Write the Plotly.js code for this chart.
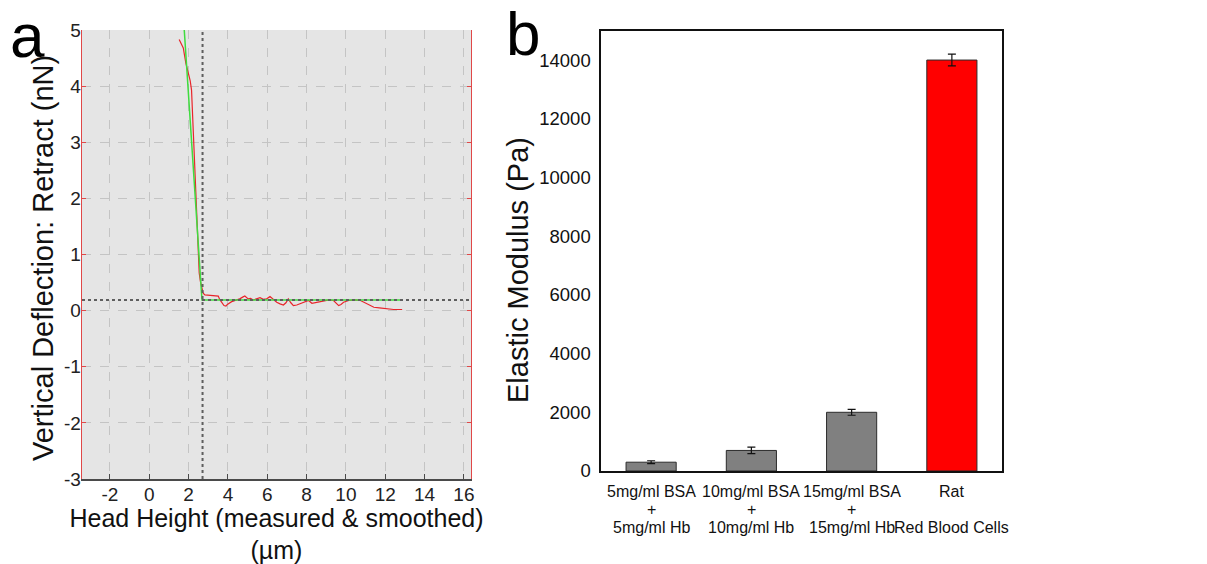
<!DOCTYPE html>
<html><head><meta charset="utf-8">
<script src="https://cdn.plot.ly/plotly-3.0.1.min.js"></script>
<style>html,body{margin:0;padding:0;background:#fff}#chart{width:1207px;height:564px}</style>
</head><body><div id="chart"></div>
<script>
// ---- Panel a: AFM retract curve ----
const retractX = [1.52,1.62,1.73,1.86,1.98,2.08,2.15,2.20,2.27,2.36,2.41,2.49,2.54,2.60,2.66,2.74,2.83,3.10,3.51,3.58,3.70,3.80,3.90,3.97,4.19,4.40,4.60,4.75,4.86,5.03,5.15,5.29,5.45,5.63,5.80,5.97,6.14,6.30,6.48,6.65,6.82,6.95,7.07,7.20,7.33,7.50,7.67,7.90,8.10,8.27,8.40,8.53,8.75,8.95,9.15,9.37,9.50,9.63,9.75,9.88,10.14,10.45,10.74,10.90,11.08,11.25,11.42,11.70,11.93,12.20,12.43,12.86];
const retractY = [4.83,4.76,4.68,4.41,4.23,4.10,3.93,3.52,2.92,2.21,1.62,1.03,0.67,0.52,0.43,0.31,0.28,0.27,0.26,0.20,0.14,0.09,0.08,0.11,0.16,0.18,0.21,0.24,0.26,0.21,0.22,0.19,0.21,0.23,0.20,0.21,0.25,0.20,0.15,0.12,0.10,0.14,0.21,0.14,0.09,0.10,0.12,0.15,0.18,0.13,0.14,0.15,0.17,0.18,0.19,0.18,0.14,0.09,0.11,0.15,0.18,0.19,0.18,0.15,0.12,0.09,0.06,0.05,0.04,0.03,0.02,0.02];
const fitX = [1.78, 2.68, 12.9];
const fitY = [5.0, 0.19, 0.19];
const contactX = 2.71;
const baselineY = 0.19;
const xTicksA = [-2,0,2,4,6,8,10,12,14,16];
const yTicksA = [-3,-2,-1,0,1,2,3,4,5];

// ---- Panel b: elastic modulus ----
const groups = ["5mg/ml BSA + 5mg/ml Hb","10mg/ml BSA + 10mg/ml Hb","15mg/ml BSA + 15mg/ml Hb","Rat Red Blood Cells"];
const labelLine1 = ["5mg/ml BSA","10mg/ml BSA","15mg/ml BSA","Rat"];
const labelLine2 = ["+","+","+",""];
const labelLine3 = ["5mg/ml Hb","10mg/ml Hb","15mg/ml Hb","Red Blood Cells"];
const modulus = [300, 700, 2000, 14000];
const modulusErr = [50, 110, 100, 200];
const barColors = ["#808080","#808080","#808080","#ff0000"];
const yTicksB = [0,2000,4000,6000,8000,10000,12000,14000];

const SANS = "Liberation Sans, Arial, sans-serif";
const W = 1207, H = 564;

const traces = [
  {x: retractX, y: retractY, type: 'scatter', mode: 'lines', xaxis: 'x', yaxis: 'y',
   line: {color: '#e8262b', width: 1.2}, hoverinfo: 'skip'},
  {x: fitX, y: fitY, type: 'scatter', mode: 'lines', xaxis: 'x', yaxis: 'y',
   line: {color: '#3fdc3f', width: 1.5}, hoverinfo: 'skip'},
  {x: groups, y: modulus, type: 'bar', xaxis: 'x2', yaxis: 'y2', width: 0.5,
   marker: {color: barColors, line: {color: '#2b2b2b', width: 1}},
   error_y: {type: 'data', array: modulusErr, visible: true, color: '#111', thickness: 1.2, width: 4}}
];

const annotations = [
  {text: 'a', xref: 'paper', yref: 'paper', x: 27/W, y: 1 - 36/H, showarrow: false,
   font: {family: SANS, size: 62, color: '#000'}, xanchor: 'center', yanchor: 'middle'},
  {text: 'b', xref: 'paper', yref: 'paper', x: 523/W, y: 1 - 33/H, showarrow: false,
   font: {family: SANS, size: 62, color: '#000'}, xanchor: 'center', yanchor: 'middle'},
  {text: 'Vertical Deflection: Retract (nN)', xref: 'paper', yref: 'paper', x: 43/W, y: 1 - 258/H,
   showarrow: false, textangle: -90, xanchor: 'center', yanchor: 'middle',
   font: {family: SANS, size: 29, color: '#111'}},
  {text: 'Elastic Modulus (Pa)', xref: 'paper', yref: 'paper', x: 518/W, y: 1 - 270/H,
   showarrow: false, textangle: -90, xanchor: 'center', yanchor: 'middle',
   font: {family: SANS, size: 29, color: '#111'}}
];
const lineYs = [1 - 491/H, 1 - 509/H, 1 - 527/H];
[labelLine1, labelLine2, labelLine3].forEach((arr, li) => {
  arr.forEach((t, i) => {
    if (!t) return;
    annotations.push({text: t, xref: 'x2', yref: 'paper', x: groups[i], y: lineYs[li],
      showarrow: false, xanchor: 'center', yanchor: 'middle',
      font: {family: SANS, size: 16, color: '#111'}});
  });
});

const layout = {
  width: W, height: H,
  margin: {l: 0, r: 0, t: 0, b: 0},
  paper_bgcolor: '#ffffff', plot_bgcolor: 'rgba(0,0,0,0)',
  showlegend: false,
  font: {family: SANS, color: '#111'},
  xaxis: {domain: [82/W, 471/W], range: [-3.42, 16.36], anchor: 'y',
    tickvals: xTicksA, ticktext: xTicksA.map(String),
    showgrid: true, gridcolor: '#c4c4c4', griddash: 'dash', gridwidth: 1,
    zeroline: false, showline: true, linecolor: '#4a4a4a', linewidth: 1.5,
    ticks: 'inside', ticklen: 5, tickcolor: '#4a4a4a', ticklabelstandoff: -2,
    tickfont: {family: SANS, size: 19, color: '#222'},
    title: {text: 'Head Height (measured & smoothed)<br>(µm)', font: {family: SANS, size: 25, color: '#111'}}},
  yaxis: {domain: [1 - 479/H, 1 - 30/H], range: [-3, 5], anchor: 'x',
    tickvals: yTicksA, ticktext: yTicksA.map(String),
    showgrid: true, gridcolor: '#c4c4c4', griddash: 'dash', gridwidth: 1,
    zeroline: false, showline: true, linecolor: '#e04848', linewidth: 1.3, mirror: 'ticks',
    ticks: 'inside', ticklen: 4, tickcolor: '#e04848', ticklabelstandoff: -4,
    tickfont: {family: SANS, size: 19, color: '#222'}},
  xaxis2: {domain: [601/W, 1002/W], range: [-0.5, 3.5], anchor: 'y2', type: 'category',
    showgrid: false, zeroline: false, showline: true, mirror: true, linecolor: '#111', linewidth: 1.6,
    ticks: '', showticklabels: false},
  yaxis2: {domain: [1 - 471/H, 1 - 30.7/H], range: [0, 15000], anchor: 'x2',
    tickvals: yTicksB, ticktext: yTicksB.map(String),
    showgrid: false, zeroline: false, showline: true, mirror: true,
    linecolor: '#111', linewidth: 1.6, ticks: '', ticklabelstandoff: 5,
    tickfont: {family: SANS, size: 18.5, color: '#111'}},
  shapes: [
    {type: 'rect', xref: 'x domain', yref: 'y domain', x0: 0, x1: 1, y0: 0, y1: 1,
     fillcolor: '#e5e5e5', line: {width: 0}, layer: 'below'},
    {type: 'line', xref: 'x', yref: 'y domain', x0: contactX, x1: contactX, y0: 0, y1: 1,
     line: {color: '#5e5e5e', width: 2, dash: 'dot'}, layer: 'above'},
    {type: 'line', xref: 'x domain', yref: 'y', x0: 0, x1: 1, y0: baselineY, y1: baselineY,
     line: {color: '#5e5e5e', width: 2, dash: 'dot'}, layer: 'above'}
  ],
  annotations: annotations
};

Plotly.newPlot('chart', traces, layout, {displayModeBar: false, staticPlot: true});
</script>
</body></html>
